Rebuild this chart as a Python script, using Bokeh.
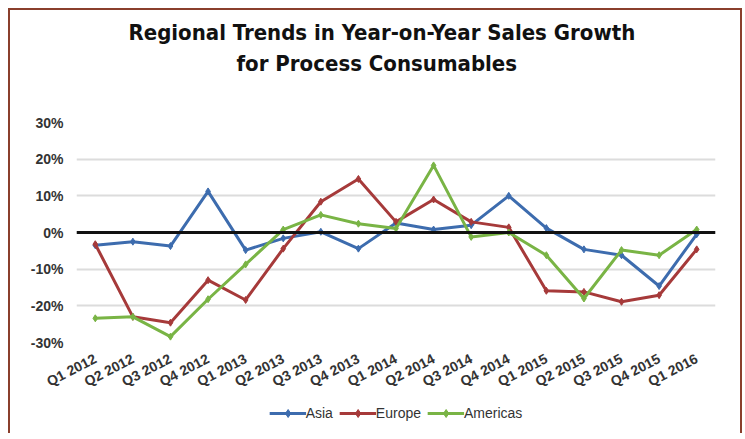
from bokeh.plotting import figure
from bokeh.layouts import column
from bokeh.models import (Title, Span, Legend, LegendItem, FixedTicker,
                          PrintfTickFormatter, Range1d)
from bokeh.embed import file_html
from bokeh.resources import INLINE

categories = ["Q1 2012", "Q2 2012", "Q3 2012", "Q4 2012",
              "Q1 2013", "Q2 2013", "Q3 2013", "Q4 2013",
              "Q1 2014", "Q2 2014", "Q3 2014", "Q4 2014",
              "Q1 2015", "Q2 2015", "Q3 2015", "Q4 2015", "Q1 2016"]
asia = [-3.5, -2.5, -3.7, 11.2, -4.8, -1.6, 0.2, -4.4, 2.6, 0.8, 2.0, 10.0,
        1.2, -4.6, -6.2, -14.6, -0.5]
europe = [-3.2, -23.0, -24.6, -13.0, -18.4, -4.4, 8.4, 14.6, 2.9, 9.0, 2.9, 1.4,
          -15.9, -16.2, -18.9, -17.1, -4.6]
americas = [-23.4, -23.0, -28.4, -18.2, -8.7, 0.8, 4.8, 2.4, 1.1, 18.3, -1.2, 0.0,
            -6.2, -18.0, -4.8, -6.2, 0.8]
y_ticks = [-30, -20, -10, 0, 10, 20, 30]

series = [("Asia", asia, "#3d6cae"),
          ("Europe", europe, "#a63a3a"),
          ("Americas", americas, "#79b445")]

p = figure(width=730, height=393, x_range=categories, y_range=Range1d(-30, 30),
           output_backend="svg", toolbar_location=None,
           min_border_left=66, min_border_right=25,
           min_border_top=112, min_border_bottom=61)
p.outline_line_color = None

title_kw = dict(align="left", text_font="DejaVu Sans Condensed",
                text_font_size="22px", text_font_style="bold",
                text_color="#111111", standoff=4)
spacer = Title(text=" ", text_font_size="1px", standoff=42)
t2 = Title(text="for Process Consumables", offset=160, **title_kw)
t1 = Title(text="Regional Trends in Year-on-Year Sales Growth", offset=52, **title_kw)
p.add_layout(spacer, "above")
p.add_layout(t2, "above")
p.add_layout(t1, "above")

p.xgrid.grid_line_color = None
p.ygrid.grid_line_color = "#dcdcdc"
p.ygrid.grid_line_width = 2
p.yaxis.ticker = FixedTicker(ticks=y_ticks)
p.yaxis.formatter = PrintfTickFormatter(format="%d%%")
for ax in (p.xaxis, p.yaxis):
    ax.axis_line_color = None
    ax.major_tick_line_color = None
    ax.minor_tick_line_color = None
    ax.major_tick_out = 0
    ax.major_label_text_font = "Liberation Sans"
    ax.major_label_text_font_style = "bold"
    ax.major_label_text_font_size = "14px"
    ax.major_label_text_color = "#333333"
p.yaxis.major_label_standoff = 13
p.xaxis.major_label_standoff = 15
p.xaxis.major_label_orientation = 0.48

p.add_layout(Span(location=0, dimension="width", line_color="#111111", line_width=3))

for name, vals, color in series:
    p.line(categories, vals, line_color=color, line_width=3)
    p.scatter(categories, vals, marker="diamond", size=7, color=color)

# legend strip below the chart (same series, drawn outside its visible range)
lf = figure(width=730, height=30, x_range=categories, y_range=Range1d(1000, 1001),
            output_backend="svg", toolbar_location=None,
            min_border_left=66, min_border_right=25, min_border_top=0,
            min_border_bottom=0)
lf.axis.visible = False
lf.grid.visible = False
lf.outline_line_color = None
items = []
for name, vals, color in series:
    r1 = lf.line(categories, vals, line_color=color, line_width=3)
    r2 = lf.scatter(categories, vals, marker="diamond", size=7, color=color)
    items.append(LegendItem(label=name, renderers=[r1, r2]))
legend = Legend(items=items, orientation="horizontal", location="top_center",
                glyph_width=37, label_text_font="Liberation Sans",
                label_text_font_size="14px", label_text_color="#333333",
                border_line_color=None, background_fill_alpha=0,
                spacing=6, label_standoff=0, padding=0, margin=0)
lf.add_layout(legend, "center")

layout = column(p, lf, spacing=0,
                styles={"margin-left": "8px", "margin-top": "8px",
                        "border-left": "2px solid #8a3f2c",
                        "border-right": "2px solid #8a3f2c",
                        "border-top": "2px solid #8a3f2c"})

open("out.html", "w").write(file_html(layout, INLINE))
